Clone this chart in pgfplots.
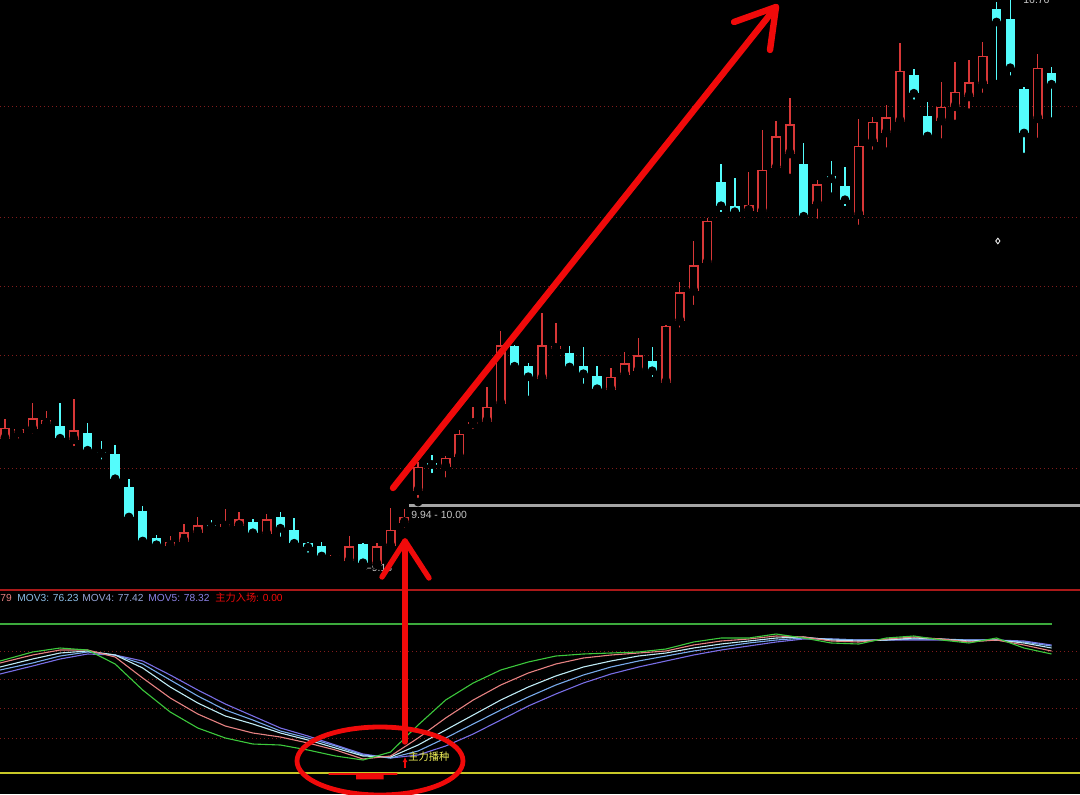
\documentclass[border=0pt]{standalone}
\usepackage{pgfplots}
\pgfplotsset{compat=1.18}
\usepackage{pgfplotstable}
\usepackage{fontspec}
\setmainfont{Liberation Sans}
\newfontfamily\cjk{Noto Sans CJK SC}
\newfontfamily\dejavu{DejaVu Sans}
\usetikzlibrary{arrows.meta}

\definecolor{upred}{RGB}{215,55,55}
\definecolor{dncyan}{RGB}{84,252,252}
\definecolor{gridred}{RGB}{130,28,28}
\definecolor{sepred}{RGB}{170,25,25}
\definecolor{annred}{RGB}{240,10,10}
\definecolor{lgray}{RGB}{200,200,200}
\definecolor{cgray}{RGB}{165,165,165}
\definecolor{refgreen}{RGB}{60,170,60}
\definecolor{refyellow}{RGB}{200,200,40}
\definecolor{txtyellow}{RGB}{245,245,90}
\definecolor{mA}{RGB}{60,200,60}
\definecolor{mB}{RGB}{230,130,130}
\definecolor{mC}{RGB}{190,235,245}
\definecolor{mD}{RGB}{120,170,235}
\definecolor{mE}{RGB}{120,110,230}
\definecolor{tC}{RGB}{140,190,230}
\definecolor{tD}{RGB}{150,165,215}
\definecolor{tE}{RGB}{140,130,230}

\pgfplotstableread{
i O H L C
0 10.88 11.15 10.87 11.03
1 10.96 11.04 10.83 11.01
2 11.01 11.36 10.89 11.16
3 11.08 11.25 11.00 11.13
5 10.87 11.41 10.73 11.00
12 9.45 9.59 9.44 9.51
13 9.51 9.75 9.49 9.64
14 9.63 9.84 9.61 9.73
16 9.71 9.95 9.69 9.75
17 9.72 9.91 9.70 9.81
19 9.61 9.88 9.60 9.81
24 9.32 9.36 9.24 9.34
25 9.25 9.59 9.23 9.45
27 9.21 9.49 9.20 9.45
28 9.45 9.96 9.43 9.67
29 9.76 9.95 9.64 9.84
30 10.19 10.57 10.04 10.51
32 10.51 10.65 10.31 10.63
33 10.64 11.00 10.57 10.95
34 11.08 11.31 10.96 11.11
35 11.11 11.57 11.01 11.31
36 11.35 12.32 11.29 12.13
39 11.68 12.56 11.67 12.13
40 12.08 12.43 12.03 12.12
44 11.53 11.83 11.48 11.71
45 11.73 12.04 11.65 11.89
46 11.79 12.23 11.75 12.00
48 11.63 12.40 11.61 12.39
49 12.45 12.97 12.31 12.84
50 12.85 13.52 12.61 13.20
51 13.23 13.83 13.21 13.79
54 13.92 14.44 13.87 14.00
55 13.91 15.00 13.88 14.47
56 14.49 15.12 14.40 14.92
57 14.68 15.43 14.36 15.08
59 14.01 14.33 13.76 14.28
62 13.87 15.15 13.68 14.79
63 14.84 15.17 14.68 15.11
64 14.96 15.33 14.71 15.17
65 15.11 16.16 15.03 15.79
68 15.12 15.64 14.83 15.31
69 15.31 15.91 15.08 15.51
70 15.44 15.93 15.23 15.64
71 15.61 16.17 15.44 15.99
75 15.15 16.01 14.84 15.83
}\uptab

\pgfplotstableread{
i O H L C
4 11.05 11.36 10.87 10.89
6 10.96 11.09 10.64 10.73
7 10.71 10.85 10.55 10.69
8 10.68 10.80 10.31 10.35
9 10.24 10.35 9.83 9.84
10 9.92 9.99 9.51 9.52
11 9.56 9.60 9.43 9.47
15 9.73 9.80 9.60 9.71
18 9.77 9.81 9.59 9.63
20 9.84 9.91 9.52 9.69
21 9.67 9.83 9.47 9.49
22 9.49 9.51 9.31 9.44
23 9.45 9.51 9.29 9.32
26 9.48 9.49 9.17 9.23
31 10.56 10.67 10.37 10.54
37 12.12 12.13 11.81 11.85
38 11.85 11.89 11.40 11.71
41 12.03 12.12 11.77 11.84
42 11.85 12.11 11.56 11.75
43 11.72 11.85 11.48 11.55
47 11.92 12.11 11.65 11.79
52 14.31 14.55 13.85 13.99
53 13.99 14.36 13.88 13.91
58 14.55 14.83 13.75 13.85
60 14.39 14.59 14.11 14.35
61 14.25 14.51 13.93 14.07
66 15.73 15.81 15.35 15.49
67 15.19 15.37 14.88 14.92
72 16.61 16.71 15.61 16.44
73 16.48 16.76 15.67 15.83
74 15.55 15.57 14.64 14.96
76 15.76 15.84 15.11 15.61
}\dntab

\pgfplotstableread{
i m1 m2 m3 m4 m5
-0.36 75.17 73.83 71.14 69.13 66.44
2 81.21 79.19 76.51 73.83 71.81
4 83.89 82.55 80.54 78.52 76.51
6 82.55 82.55 81.88 81.21 79.87
8 73.15 77.85 79.19 79.19 79.19
10 55.70 63.76 70.47 73.15 75.17
12 40.94 50.34 57.72 62.42 65.77
14 30.20 39.60 46.98 51.68 55.70
16 23.49 31.54 38.26 42.28 46.31
18 19.46 26.85 32.89 35.57 38.26
20 18.79 24.16 26.85 28.19 30.20
22 15.44 20.13 22.15 23.49 24.83
24 11.41 15.44 16.78 18.12 18.79
26 8.72 9.40 11.41 12.08 12.75
28 14.09 11.41 10.74 10.07 10.07
30 32.21 23.49 18.79 14.77 12.08
32 48.99 36.91 28.86 23.49 18.12
34 60.40 48.99 38.93 32.89 26.17
36 69.13 59.06 48.99 42.28 35.57
38 74.50 67.11 57.72 51.01 44.97
40 78.52 73.15 65.10 59.06 53.02
42 79.87 77.18 71.14 65.77 60.40
44 80.54 79.19 75.17 71.14 66.44
46 81.21 80.54 78.52 75.17 71.14
48 83.22 81.88 80.54 78.52 75.17
50 87.92 85.91 83.89 81.88 79.19
52 90.60 88.59 86.58 84.56 82.55
54 90.60 89.93 88.59 87.25 85.23
56 93.29 91.95 90.60 89.26 87.92
58 90.60 91.28 91.28 90.60 89.93
60 87.25 88.59 89.26 89.93 89.93
62 86.58 87.92 88.59 89.26 89.26
64 90.60 89.93 89.26 89.26 89.26
66 91.95 91.28 90.60 89.93 89.26
68 89.26 89.93 89.93 89.93 89.26
70 87.25 87.92 88.59 89.26 89.26
72 90.60 89.26 89.26 89.26 89.26
74 83.89 85.91 87.25 87.92 88.59
76 79.87 81.88 83.89 85.23 85.91
}\movtab

\pgfplotsset{
  candle/.style n args={2}{only marks, mark=none,
    error bars/.cd, y dir=plus, y explicit, error mark=none,
    error bar style={draw=#1, line width=#2, line cap=butt}},
  tdx/.style={scale only axis, xmin=-0.3631, xmax=78.068,
    axis line style={draw=none}, tick style={draw=none},
    xtick=\empty, yticklabels={}, ymajorgrids,
    grid style={gridred, line width=0.5pt, dash pattern=on 0.6pt off 1.4pt},
    clip=false},
}

\begin{document}
\begin{tikzpicture}
\path[use as bounding box] (0,0) rectangle (540pt,397pt);
\clip (0,0) rectangle (540pt,397pt);
\fill[black] (0,0) rectangle (540pt,397pt);

% ---------------- main candle panel ----------------
\begin{axis}[tdx, at={(0pt,102pt)}, anchor=south west, width=540pt, height=295pt,
  ymin=8.86667, ymax=16.73333, ytick={10.49,11.99,12.91,13.83,15.31}]
% wicks
\addplot[candle={upred}{0.7pt}] table[x=i, y=L, y error plus expr=\thisrow{H}-\thisrow{L}] {\uptab};
\addplot[candle={dncyan}{0.7pt}] table[x=i, y=L, y error plus expr=\thisrow{H}-\thisrow{L}] {\dntab};
% bodies
\addplot[candle={upred}{5pt}] table[x=i, y=O, y error plus expr=\thisrow{C}-\thisrow{O}] {\uptab};
\addplot[candle={black}{3.4pt}] table[x=i, y expr=\thisrow{O}+0.021, y error plus expr={max(\thisrow{C}-\thisrow{O}-0.042,0)}] {\uptab};
\addplot[candle={dncyan}{4.7pt}] table[x=i, y=C, y error plus expr=\thisrow{O}-\thisrow{C}] {\dntab};
% cost line
\addplot[cgray, line width=1.5pt] coordinates {(29.34,10.00) (78.1,10.00)};
% marker
\addplot[only marks, mark=diamond, mark size=1.4pt, draw=white, mark options={line width=0.4pt, fill=none}] coordinates {(72.1,13.52)};
% labels
\node[anchor=west, inner sep=0pt, text=lgray, font=\fontsize{5.2pt}{6pt}\selectfont] at (axis cs:29.48,9.867) {9.94 - 10.00};
\node[anchor=west, inner sep=0pt, text=lgray, font=\fontsize{5.2pt}{6pt}\selectfont] at (axis cs:26.05,9.16) {{\dejavu\fontsize{4.6pt}{6pt}\selectfont ←}9.18};
\node[anchor=base west, inner sep=0pt, text=lgray, font=\fontsize{5.2pt}{6pt}\selectfont] at (axis cs:73.93,16.693) {16.76};
\end{axis}

% ---------------- indicator panel ----------------
\begin{axis}[tdx, at={(0pt,0pt)}, anchor=south west, width=540pt, height=102pt,
  ymin=-14.094, ymax=122.819, ytick={23.49,43.62,63.09,81.88}]
\addplot[refgreen, line width=0.6pt] coordinates {(-0.37,100) (76.05,100)};
\addplot[refyellow, line width=0.75pt] coordinates {(-0.37,0) (78.1,0)};
\addplot[ybar, bar width=1, bar shift=0pt, fill=annred, draw=none] coordinates {(24,-1.3) (25,-1.3) (26,-4.2) (27,-4.2) (28,-1.3)};
\addplot[mE, line width=0.55pt] table[x=i, y=m5] {\movtab};
\addplot[mD, line width=0.55pt] table[x=i, y=m4] {\movtab};
\addplot[mC, line width=0.55pt] table[x=i, y=m3] {\movtab};
\addplot[mB, line width=0.55pt] table[x=i, y=m2] {\movtab};
\addplot[mA, line width=0.55pt] table[x=i, y=m1] {\movtab};
\addplot[annred, line width=0.6pt, -{Latex[length=2.5pt,width=2.5pt]}] coordinates {(29.05,3.36) (29.05,10.74)};
\draw[sepred, line width=0.6pt] (rel axis cs:0,1) -- (rel axis cs:1,1);
\end{axis}

% ---------------- texts and hand-drawn annotations (pixel frame) ----------------
\begin{scope}[x=0.5pt, y=-0.5pt, yshift=397pt]
\begin{scope}[font=\fontsize{5.1pt}{6pt}\selectfont]
\node[anchor=west, inner sep=0pt, text=mB] at (0,598) {79};
\node[anchor=west, inner sep=0pt, text=tC] at (17,598) {MOV3: 76.23};
\node[anchor=west, inner sep=0pt, text=tD] at (82,598) {MOV4: 77.42};
\node[anchor=west, inner sep=0pt, text=tE] at (148,598) {MOV5: 78.32};
\node[anchor=west, inner sep=0pt, text=annred] at (215,598) {{\cjk 主力入场}: 0.00};
\node[anchor=west, inner sep=0pt, text=txtyellow] at (408,757) {\cjk 主力播种};
\end{scope}
\draw[annred, line width=3.2pt, line cap=round, line join=round] (393,488) -- (776,7);
\draw[annred, line width=3.2pt, line cap=round, line join=round] (734,22) -- (776,7) -- (770,50);
\draw[annred, line width=2.7pt, line cap=round] (405,742) -- (405,541);
\draw[annred, line width=2.7pt, line cap=round, line join=round] (382,577) -- (405,541) -- (429,578);
\draw[annred, line width=2.4pt] (380,761) ellipse [x radius=83, y radius=34];
\end{scope}
\end{tikzpicture}
\end{document}
